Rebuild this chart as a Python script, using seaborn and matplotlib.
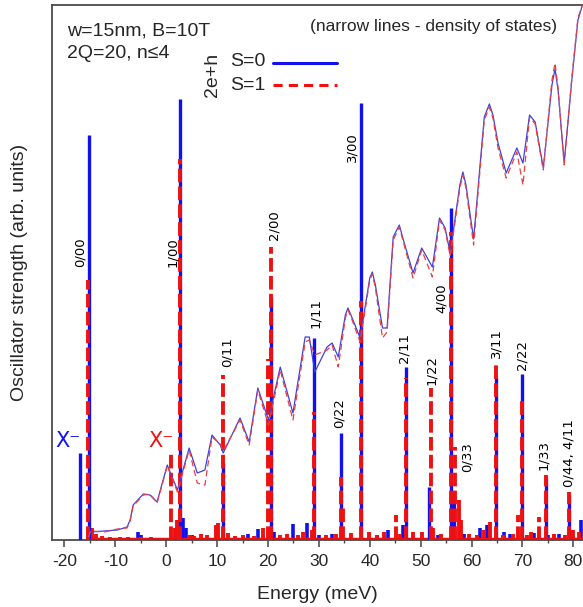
import numpy as np
import pandas as pd
import matplotlib
matplotlib.use("Agg")
import matplotlib.pyplot as plt
import seaborn as sns

# ---------------- data ----------------
# main transitions (S=0, blue)
blue_E = [-17.0, -15.1, 2.75, 11.2, 20.5, 29.1, 34.3, 38.2, 47.1, 51.7, 56.0, 56.6, 64.8, 69.9, 74.6, 79.2]
blue_h = [87, 405, 441, 77, 243, 202, 107, 437, 173, 53, 332, 47, 162, 166, 62, 45]
# main transitions (S=1, red)
red_E = [-15.3, 0.9, 2.75, 11.2, 20.0, 20.5, 29.1, 34.3, 34.8, 38.2, 45.2, 47.1, 52.1, 56.0, 56.7,
         64.8, 69.2, 69.9, 73.3, 74.6, 79.2]
red_h = [260, 88, 381, 165, 181, 293, 128, 63, 35, 239, 25, 162, 152, 308, 93,
         177, 25, 142, 23, 65, 48]
# weak lines
small_blue_E = [-5.6, -5.0, 3.2, 3.8, 5.0, 16.1, 18.0, 21.1, 25.0, 27.7, 30.1, 32.6, 41.5, 43.5, 46.5,
                53.5, 58.5, 61.6, 63.1, 66.4, 67.6, 72.2, 75.1, 77.2, 81.5]
small_blue_h = [8, 5, 22, 12, 5, 6, 11, 8, 16, 17, 5, 6, 5, 10, 15,
                5, 6, 12, 15, 8, 6, 7, 5, 6, 20]
small_red_E = [-14.5, -13.9, -12.6, -11.1, -9.1, -7.6, -5.0, -3.0, 1.8, 2.2, 4.7, 5.5, 6.8, 8.0, 9.7, 10.1,
               12.1, 13.6, 15.1, 17.2, 19.1, 22.3, 23.8, 25.8, 26.8, 28.7, 31.3, 33.3, 36.4, 39.9, 41.4,
               42.7, 45.9, 48.5, 50.3, 52.5, 54.0, 57.5, 58.0, 59.5, 61.1, 62.5, 63.7, 66.1, 68.1, 70.8,
               71.7, 76.2, 78.3, 79.9, 81.2]
small_red_h = [12, 6, 4, 3, 3, 3, 3, 3, 12, 20, 5, 4, 6, 5, 15, 17,
               7, 4, 5, 4, 12, 5, 6, 5, 8, 10, 5, 6, 7, 8, 5,
               8, 6, 8, 8, 12, 6, 40, 20, 6, 5, 10, 18, 5, 6, 5,
               8, 6, 5, 10, 8]
# density of states (S=0 blue, S=1 red)
dos_E = [-15.3, -14.9, -12.2, -9.6, -7.7, -7.1, -6.5, -4.5, -3.2, -1.8, 0.2, 2.2, 4.5, 6.1, 7.6, 9.0,
         10.6, 11.2, 14.5, 16.3, 18.0, 20.1, 22.4, 24.9, 27.3, 28.1, 29.2, 31.6, 32.6, 33.8, 35.2,
         35.7, 36.3, 38.1, 40.0, 40.5, 41.1, 42.5, 43.4, 44.6, 45.8, 46.6, 48.5, 50.2, 52.3, 53.7,
         54.8, 55.8, 57.7, 58.3, 58.9, 60.4, 62.5, 63.5, 64.2, 65.2, 66.8, 68.9, 70.1, 71.4, 72.5,
         74.1, 75.8, 76.4, 77.0, 78.2, 79.7, 80.9, 81.8]
dos_blue = [3, 8, 9, 10, 13, 20, 35, 46, 45, 38, 75, 50, 92, 67, 70, 105,
            95, 87, 122, 98, 152, 120, 173, 127, 203, 203, 168, 193, 197, 183, 225,
            232, 225, 202, 262, 268, 255, 212, 212, 303, 315, 300, 267, 292, 273, 322,
            312, 287, 355, 368, 355, 301, 423, 436, 425, 397, 367, 392, 377, 425, 418,
            372, 455, 471, 450, 377, 460, 520, 535]
dos_red = [3, 9, 8, 11, 12, 19, 34, 45, 46, 37, 74, 48, 90, 57, 55, 103,
           96, 89, 120, 95, 150, 115, 170, 120, 198, 200, 185, 190, 195, 173, 222,
           230, 223, 198, 260, 266, 252, 202, 208, 300, 313, 298, 262, 290, 263, 320,
           310, 284, 352, 365, 352, 295, 420, 433, 422, 392, 362, 388, 355, 423, 416,
           370, 460, 477, 452, 375, 462, 522, 535]
xticks = [-20, -10, 0, 10, 20, 30, 40, 50, 60, 70, 80]

labels = ["0/00", "1/00", "0/11", "2/00", "1/11", "0/22", "3/00", "2/11", "1/22",
          "4/00", "0/33", "3/11", "2/22", "1/33", "0/44, 4/11"]
label_pos = [(-16.9, 273), (1.2, 273), (12.0, 173), (21.1, 300), (29.3, 212), (34.0, 112),
             (36.5, 378), (46.8, 177), (52.1, 155), (54.0, 227), (59.1, 68), (64.8, 182),
             (69.9, 170), (74.1, 70), (79.2, 53)]

BLUE = "#1010f0"
RED = "#f01010"

# ---------------- figure ----------------
sns.set_theme(style="ticks")
plt.rcParams["font.family"] = ["Liberation Sans", "DejaVu Sans"]
plt.rcParams["axes.unicode_minus"] = False

fig = plt.figure(figsize=(5.83, 6.07), dpi=100)
ax = fig.add_axes([52 / 583, 67 / 607, 531 / 583, 535 / 607])

# weak lines
ax.vlines(small_blue_E, 0, small_blue_h, color=BLUE, lw=2.6, zorder=2)
ax.vlines(small_red_E, 0, small_red_h, color=RED, lw=2.8, zorder=2)
ax.plot([-15.8, 83], [1.2, 1.2], color=RED, lw=2.5, zorder=2, solid_capstyle="butt")

# main transitions
ax.vlines(blue_E, 0, blue_h, color=BLUE, lw=2.4, zorder=3)
red_lines = ax.vlines(red_E, 0, red_h, color=RED, lw=2.8, zorder=4)
red_lines.set_linestyle((0, (3.5, 1.1)))

# density of states
df = pd.DataFrame({"E": dos_E, "S0": dos_blue, "S1": dos_red})
sns.lineplot(data=df, x="E", y="S0", ax=ax, color="#4040e0", lw=0.9, zorder=5)
sns.lineplot(data=df, x="E", y="S1", ax=ax, color="#e84040", lw=0.9, zorder=6,
             linestyle=(0, (5, 3)))

ax.set_xlim(-22.45, 81.9)
ax.set_ylim(0, 535)
ax.set_xticks(xticks)
ax.set_xticks(np.arange(-15, 81, 10), minor=True)
ax.set_yticks([])
ax.tick_params(axis="x", which="major", direction="out", length=5, width=1.1,
               labelsize=12.5, color="#444444", pad=5)
ax.tick_params(axis="x", which="minor", direction="out", length=2.5, width=1.0, color="#444444")
for s in ["left", "top", "bottom"]:
    ax.spines[s].set_color("#4a4a4a")
    ax.spines[s].set_linewidth(1.3)
ax.spines["right"].set_visible(False)

ax.set_xlabel("Energy (meV)", fontsize=14, labelpad=12)
ax.set_ylabel("Oscillator strength (arb. units)", fontsize=14, labelpad=17)

# line labels
for lab, (x, y) in zip(labels, label_pos):
    ax.text(x, y, lab, rotation=90, ha="center", va="bottom", fontsize=9.5,
            family="DejaVu Sans", color="black", zorder=7)

ax.text(-19.3, 99, "X⁻", color=BLUE, fontsize=15, ha="center", va="center",
        family="DejaVu Sans")
ax.text(-1.1, 99, "X⁻", color=RED, fontsize=15, ha="center", va="center",
        family="DejaVu Sans")

# annotations
fig.text(67 / 583, 1 - 31 / 607, "w=15nm, B=10T", fontsize=14, va="center", ha="left")
fig.text(67 / 583, 1 - 53 / 607, "2Q=20, n≤4", fontsize=14, va="center", ha="left")
fig.text(433 / 583, 1 - 27 / 607, "(narrow lines - density of states)", fontsize=12.5,
         va="center", ha="center")
fig.text(213 / 583, 1 - 75 / 607, "2e+h", rotation=90, fontsize=14, va="center", ha="center")
fig.text(230 / 583, 1 - 62 / 607, "S=0", fontsize=14, va="center", ha="left")
fig.text(230 / 583, 1 - 85 / 607, "S=1", fontsize=14, va="center", ha="left")
fig.add_artist(plt.Line2D([273 / 583, 337 / 583], [1 - 62.5 / 607, 1 - 62.5 / 607],
                          color=BLUE, lw=2.2, transform=fig.transFigure))
fig.add_artist(plt.Line2D([273 / 583, 337 / 583], [1 - 85 / 607, 1 - 85 / 607],
                          color=RED, lw=2.2, linestyle=(0, (3, 2)), transform=fig.transFigure))

fig.savefig("out.png", dpi=100)
